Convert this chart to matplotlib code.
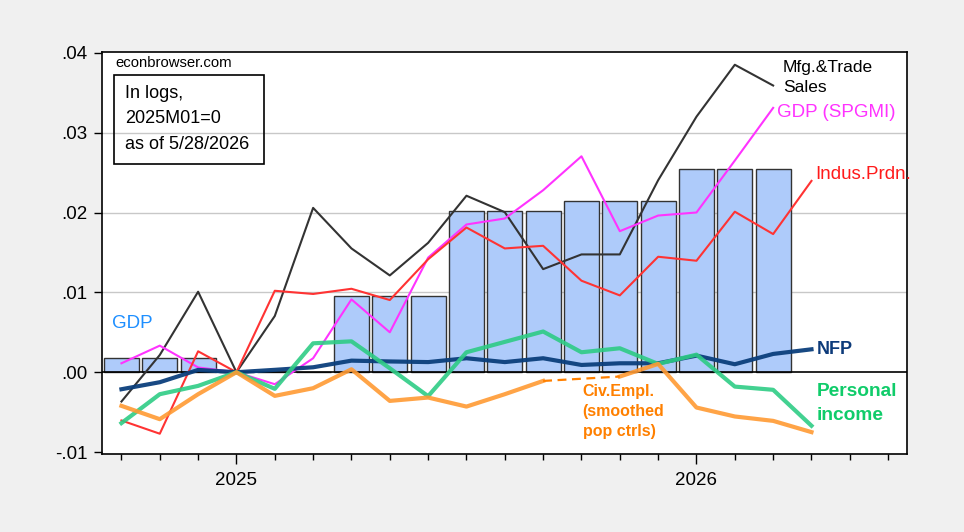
import numpy as np
import matplotlib
matplotlib.use("Agg")
from matplotlib import pyplot as plt
from matplotlib.patches import Rectangle

plt.rcParams['font.family'] = ['Liberation Sans', 'DejaVu Sans']

# months 2024M10 .. 2026M06
months = ["2024M10", "2024M11", "2024M12", "2025M01", "2025M02", "2025M03", "2025M04",
          "2025M05", "2025M06", "2025M07", "2025M08", "2025M09", "2025M10", "2025M11",
          "2025M12", "2026M01", "2026M02", "2026M03", "2026M04", "2026M05", "2026M06"]
year_ticks = {"2025M01": "2025", "2026M01": "2026"}

# quarterly GDP (2024Q4 .. 2026Q1), shown for each month of the quarter
gdp_q = [0.00175, 0.0, 0.0095, 0.02025, 0.0215, 0.0255]

nfp = [-0.00213, -0.00125, 0.00029, 0.0, 0.0003, 0.00062, 0.00145, 0.00135, 0.00127,
       0.00175, 0.00127, 0.00175, 0.00091, 0.00112, 0.00112, 0.00208, 0.001, 0.00229, 0.00287]
pers_inc = [-0.00637, -0.00275, -0.00171, 0.0, -0.00208, 0.00362, 0.00387, 0.0005, -0.003,
            0.0025, 0.0038, 0.0051, 0.0025, 0.003, 0.00104, 0.0022, -0.0018, -0.0022, -0.0067]
civ_empl = [-0.00421, -0.00588, -0.00275, 0.0, -0.00296, -0.002, 0.00037, -0.00359, -0.00317,
            -0.0043, -0.00275, -0.00109, np.nan, -0.00054, 0.00104, -0.00442, -0.00554, -0.00609, -0.0075]
mfg_sales = [-0.00367, 0.00216, 0.01008, 0.0, 0.00704, 0.02058, 0.0155, 0.01212, 0.0162,
             0.0221, 0.02004, 0.01291, 0.01475, 0.01475, 0.02404, 0.032, 0.0385, 0.0359]
gdp_spgmi = [0.00112, 0.00333, 0.0006, 0.0, -0.0015, 0.00175, 0.00912, 0.005, 0.01435,
             0.0185, 0.01925, 0.02279, 0.02704, 0.01766, 0.01962, 0.02, 0.0265, 0.0331]
indpro = [-0.00604, -0.0077, 0.00262, 0.0, 0.0102, 0.0098, 0.01045, 0.00904, 0.01414,
          0.01812, 0.0155, 0.01583, 0.01146, 0.00962, 0.01446, 0.01396, 0.0201, 0.0173, 0.02396]

x = np.arange(len(months))
gdp_m = np.repeat(gdp_q, 3)

fig = plt.figure(figsize=(9.64, 5.32), dpi=100, facecolor="#f0f0f0")
ax = fig.add_axes([0.1061, 0.1472, 0.8351, 0.7551])
ax.set_facecolor("white")

# GDP bars
ax.bar(x[:len(gdp_m)], gdp_m, width=0.91, color="#aecbfa", edgecolor="#333333",
       linewidth=1.0, zorder=2)

ax.axhline(0, color="black", linewidth=1.2, zorder=3)
for g in [0.01, 0.02, 0.03]:
    ax.axhline(g, color="#c8c8c8", linewidth=1.0, zorder=1)

# thin lines
ax.plot(x[:len(mfg_sales)], mfg_sales, color="#333333", lw=1.5, zorder=4)
ax.plot(x[:len(gdp_spgmi)], gdp_spgmi, color="#ff33ff", lw=1.5, zorder=4)
ax.plot(x[:len(indpro)], indpro, color="#ff3333", lw=1.5, zorder=4)

# thick lines
ax.plot(x[:len(nfp)], nfp, color="#0b3f7c", lw=3.0, alpha=0.95, zorder=5)
ax.plot(x[:len(pers_inc)], pers_inc, color="#2ecc85", lw=3.0, alpha=0.9, zorder=6)
ce = np.array(civ_empl)
ax.plot(x[:len(ce)], ce, color="#ff9a33", lw=3.0, alpha=0.9, zorder=6)
# dashed bridge across the missing month
for i in np.where(np.isnan(ce))[0]:
    ax.plot([x[i - 1], x[i + 1]], [ce[i - 1], ce[i + 1]], color="#ff8000",
            lw=1.6, ls=(0, (4, 2.5)), zorder=6)

ax.set_xlim(-0.5, len(months) - 0.5)
ax.set_ylim(-0.0102, 0.0401)

ax.set_yticks([-0.01, 0.0, 0.01, 0.02, 0.03, 0.04])
ax.set_yticklabels(["-.01", ".00", ".01", ".02", ".03", ".04"])
major = [months.index(m) for m in year_ticks]
ax.set_xticks(major)
ax.set_xticklabels(list(year_ticks.values()))
ax.set_xticks(x, minor=True)
ax.tick_params(axis="y", direction="out", length=6, width=1, labelsize=13.5, pad=4.5)
ax.tick_params(axis="x", which="major", direction="out", length=7, width=1, labelsize=13.5, pad=6)
ax.tick_params(axis="x", which="minor", direction="out", length=4, width=1)
for s in ax.spines.values():
    s.set_linewidth(1.2)

# annotations
ax.text(-0.16, 0.0387, "econbrowser.com", fontsize=10.7, ha="left", va="center")
ax.add_patch(Rectangle((-0.198, 0.026125), 3.913, 0.011125, fill=False,
                       edgecolor="black", linewidth=1.2, zorder=7))
for yy, s in zip([0.03485, 0.03176, 0.02854], ["In logs,", "2025M01=0", "as of 5/28/2026"]):
    ax.text(0.099, yy, s, fontsize=13, ha="left", va="center", zorder=8)

ax.text(17.26, 0.0382, "Mfg.&Trade", fontsize=12.5, ha="left", va="center")
ax.text(17.26, 0.0357, "Sales", fontsize=12.5, ha="left", va="center")
ax.text(17.1, 0.0325, "GDP (SPGMI)", fontsize=13.5, color="#ff33ff", ha="left", va="center")
ax.text(18.09, 0.0248, "Indus.Prdn.", fontsize=13.5, color="#ff1a1a", ha="left", va="center")
ax.text(-0.25, 0.00613, "GDP", fontsize=13.5, color="#1e8fff", ha="left", va="center")
ax.text(18.14, 0.0028, "NFP", fontsize=13, fontweight="bold", color="#0d3b7a",
        ha="left", va="center")
ax.text(18.14, -0.00243, "Personal", fontsize=13.8, fontweight="bold", color="#10cc6a",
        ha="left", va="center")
ax.text(18.14, -0.00543, "income", fontsize=13.8, fontweight="bold", color="#10cc6a",
        ha="left", va="center")
for yy, s in zip([-0.00243, -0.00493, -0.00743], ["Civ.Empl.", "(smoothed", "pop ctrls)"]):
    ax.text(12.03, yy, s, fontsize=11.5, fontweight="bold", color="#ff8000",
            ha="left", va="center")

fig.savefig("out.png", dpi=100, facecolor=fig.get_facecolor())
